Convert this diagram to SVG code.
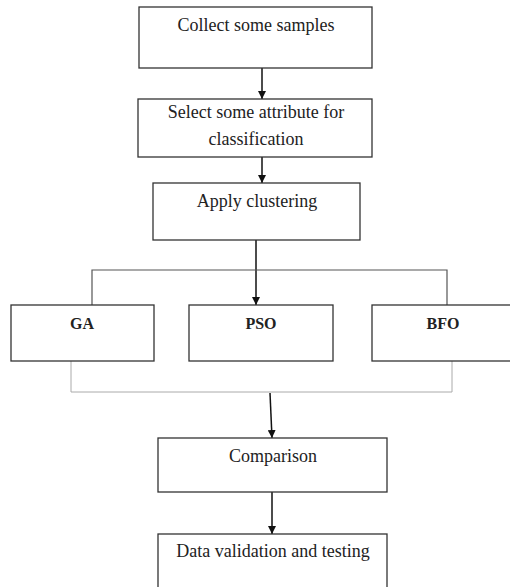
<svg xmlns="http://www.w3.org/2000/svg" width="510" height="587" viewBox="0 0 510 587">
<style>
.box{fill:#fff;stroke:#333;stroke-width:1.3}
.t{font-family:"Liberation Serif",serif;font-size:18px;fill:#222;text-anchor:middle}
.b{font-weight:bold;font-size:16px}
.c{stroke:#111;stroke-width:1.5;fill:none}
.d{stroke:#555;stroke-width:1.2;fill:none}
.g{stroke:#aaa;stroke-width:1;fill:none}
</style>
<defs>
<marker id="ah" viewBox="0 0 10 10" refX="10" refY="5" markerWidth="8" markerHeight="8" markerUnits="userSpaceOnUse" orient="auto">
<path d="M0,0 L10,5 L0,10 z" fill="#111"/>
</marker>
</defs>
<rect width="510" height="587" fill="#fff"/>
<g id="connectors">
<line class="c" x1="262" y1="68" x2="262" y2="99" marker-end="url(#ah)"/>
<line class="c" x1="262" y1="157" x2="262" y2="183" marker-end="url(#ah)"/>
<line class="c" x1="256" y1="240" x2="256" y2="305" marker-end="url(#ah)"/>
<polyline class="d" points="92,305 92,270 447,270 447,305"/>
<polyline class="g" points="71,361 71,392 452,392 452,361"/>
<line class="c" x1="270" y1="393" x2="272" y2="438" marker-end="url(#ah)"/>
<line class="c" x1="272" y1="492" x2="272" y2="534" marker-end="url(#ah)"/>
</g>
<g id="n1"><rect class="box" x="139" y="7" width="233" height="61"/><text class="t" x="256" y="31">Collect some samples</text></g>
<g id="n2"><rect class="box" x="138" y="99" width="234" height="58"/><text class="t" x="256" y="118">Select some attribute for</text><text class="t" x="256" y="145">classification</text></g>
<g id="n3"><rect class="box" x="153" y="183" width="207" height="57"/><text class="t" x="257" y="207">Apply clustering</text></g>
<g id="n4"><rect class="box" x="11" y="305" width="143" height="56"/><text class="t b" x="82" y="329">GA</text></g>
<g id="n5"><rect class="box" x="189" y="305" width="144" height="56"/><text class="t b" x="261" y="329">PSO</text></g>
<g id="n6"><rect class="box" x="372" y="305" width="140" height="56"/><text class="t b" x="443" y="329">BFO</text></g>
<g id="n7"><rect class="box" x="158" y="438" width="229" height="54"/><text class="t" x="273" y="462">Comparison</text></g>
<g id="n8"><rect class="box" x="158" y="534" width="229" height="60"/><text class="t" x="273" y="557">Data validation and testing</text></g>
</svg>
